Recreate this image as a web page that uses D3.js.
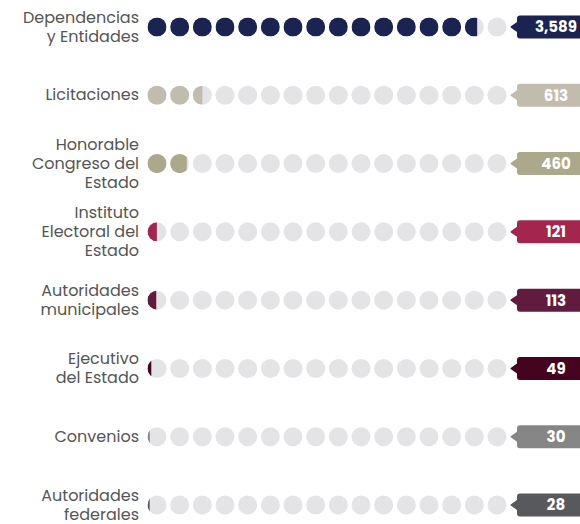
<!DOCTYPE html>
<html>
<head>
<meta charset="utf-8">
<script src="https://cdn.jsdelivr.net/npm/d3@7"></script>
<style>
  body { margin: 0; background: #fff; }
  #canvas { width: 580px; height: 524px; }
</style>
</head>
<body>
<div id="canvas"></div>
<script>
// data
const categories = [
  "Dependencias\ny Entidades",
  "Licitaciones",
  "Honorable\nCongreso del\nEstado",
  "Instituto\nElectoral del\nEstado",
  "Autoridades\nmunicipales",
  "Ejecutivo\ndel Estado",
  "Convenios",
  "Autoridades\nfederales"
];
const values = [3589, 613, 460, 121, 113, 49, 30, 28];
const colors = ["#1b2350", "#c1bcae", "#aba88b", "#a3264f", "#601b3e", "#44041f", "#868686", "#58595c"];
const unitPerDot = 245;
const dotCount = 16;

const w = 580, h = 524;
const emptyColor = "#e4e4e6";

let svg = d3.select("#canvas")
  .append("svg")
    .attr("width", w)
    .attr("height", h)
    .attr("viewBox", [0, 0, w, h]);

let y = d3.scalePoint()
  .domain(categories)
  .range([27, 505]);

let x = d3.scaleLinear()
  .domain([0, dotCount - 1])
  .range([157, 497]);

const r = 9.5;
const fmt = d3.format(",");

let rows = svg.selectAll("g.row")
  .data(categories.map((c, i) => ({ cat: c, value: values[i], color: colors[i], idx: i })))
  .enter().append("g")
    .attr("class", "row")
    .attr("transform", d => "translate(0," + y(d.cat) + ")");

// labels
rows.each(function(d) {
  const lines = d.cat.split("\n");
  const t = d3.select(this).append("text")
    .attr("x", 139)
    .attr("text-anchor", "end")
    .attr("font-family", "Poppins, 'Noto Sans', sans-serif")
    .attr("font-size", 16)
    .attr("fill", "#555");
  const lh = 19;
  lines.forEach((l, j) => {
    t.append("tspan")
      .attr("x", 139)
      .attr("y", (j - (lines.length - 1) / 2) * lh - 0.5)
      .attr("dy", "0.35em")
      .text(l);
  });
});

// dots: grey base, coloured part clipped to the filled fraction
const defs = svg.append("defs");
rows.each(function(d) {
  const g = d3.select(this);
  const units = d.value / unitPerDot;
  d3.range(dotCount).forEach(i => {
    const f = Math.max(0, Math.min(1, units - i));
    const cx = x(i);
    g.append("circle")
      .attr("cx", cx).attr("cy", 0).attr("r", r)
      .attr("fill", emptyColor);
    if (f > 0) {
      const id = "clip-" + d.idx + "-" + i;
      defs.append("clipPath").attr("id", id)
        .append("rect")
          .attr("x", cx - r).attr("y", -r)
          .attr("width", 2 * r * f).attr("height", 2 * r);
      g.append("circle")
        .attr("cx", cx).attr("cy", 0).attr("r", r)
        .attr("fill", d.color)
        .attr("clip-path", "url(#" + id + ")");
    }
  });
});

// badges
rows.each(function(d) {
  const g = d3.select(this);
  const bx = 517, bh = 23, tip = 511, rr = 3;
  const path = d3.path();
  path.moveTo(bx + rr, -bh / 2);
  path.lineTo(w + 5, -bh / 2);
  path.lineTo(w + 5, bh / 2);
  path.lineTo(bx + rr, bh / 2);
  path.quadraticCurveTo(bx, bh / 2, bx, bh / 2 - rr);
  path.lineTo(bx, 5);
  path.lineTo(tip, 0.8);
  path.quadraticCurveTo(tip - 1, 0, tip, -0.8);
  path.lineTo(bx, -5);
  path.lineTo(bx, -bh / 2 + rr);
  path.quadraticCurveTo(bx, -bh / 2, bx + rr, -bh / 2);
  path.closePath();
  g.append("path")
    .attr("d", path.toString())
    .attr("fill", d.color);
  g.append("text")
    .attr("x", 556)
    .attr("y", 0)
    .attr("dy", "0.36em")
    .attr("text-anchor", "middle")
    .attr("font-family", "Poppins, 'Open Sans', sans-serif")
    .attr("font-weight", "bold")
    .attr("font-size", 15)
    .attr("fill", "#fff")
    .text(fmt(d.value));
});
</script>
</body>
</html>
